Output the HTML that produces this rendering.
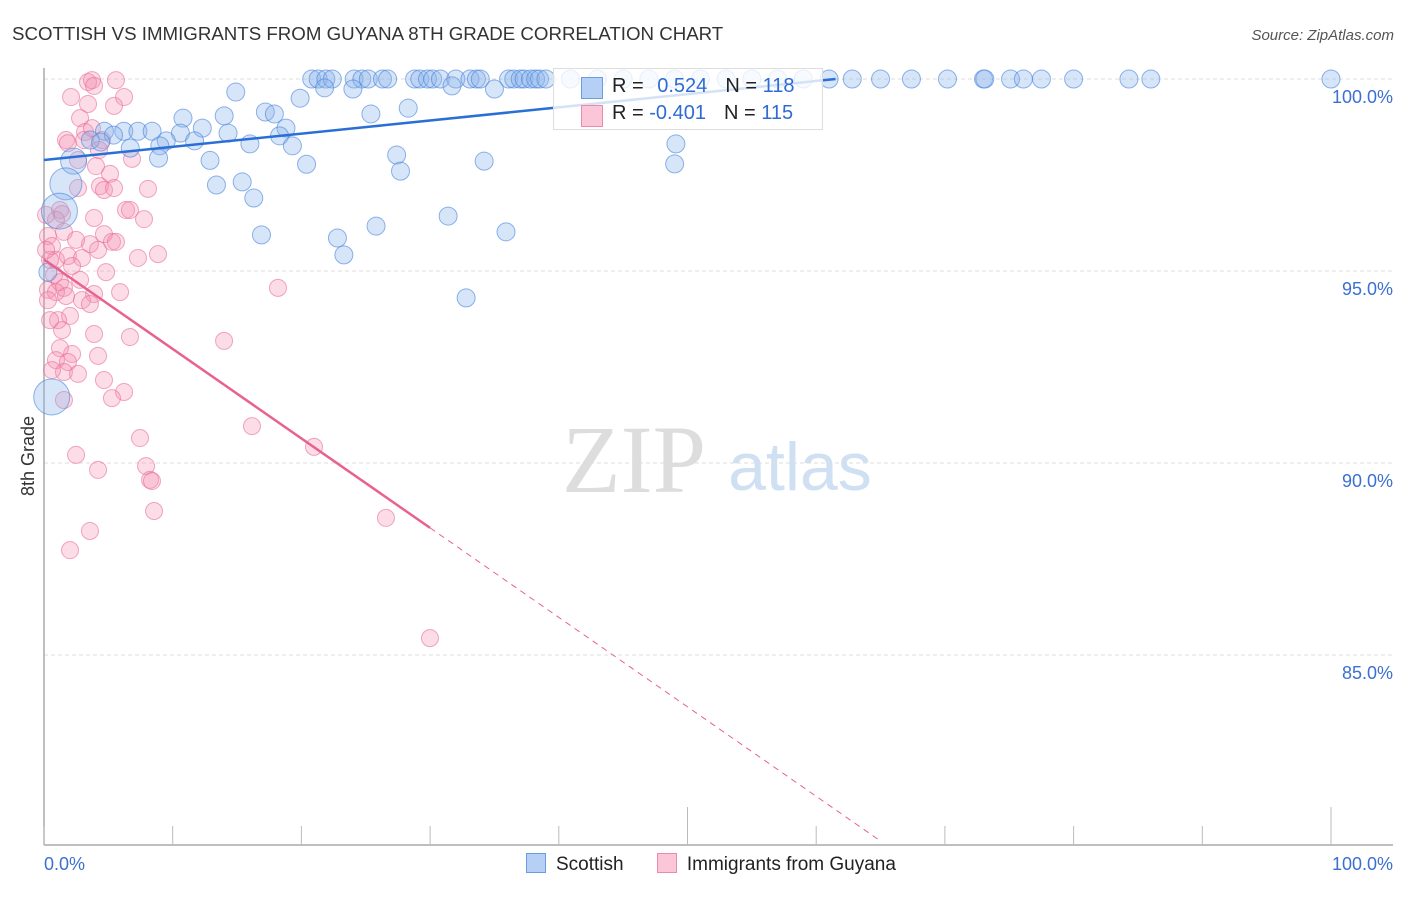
<!DOCTYPE html>
<html><head><meta charset="utf-8"><style>
body{margin:0;background:#fff;font-family:"Liberation Sans",sans-serif;}
svg text{font-family:"Liberation Sans",sans-serif;}
</style></head><body>
<svg id="chart" width="1406" height="892" viewBox="0 0 1406 892">
<text x="12" y="40" font-size="18.7" fill="#333">SCOTTISH VS IMMIGRANTS FROM GUYANA 8TH GRADE CORRELATION CHART</text>
<text x="1394" y="40" font-size="15" fill="#555" font-style="italic" text-anchor="end">Source: ZipAtlas.com</text>
<text x="634" y="492" font-size="96" fill="#ddd" text-anchor="middle" style="font-family:'Liberation Serif',serif">ZIP</text>
<text x="800" y="490" font-size="68" fill="#cfe0f3" text-anchor="middle">atlas</text>
<text transform="translate(34,456) rotate(-90)" font-size="18" fill="#333" text-anchor="middle">8th Grade</text>
<g id="grid"></g><g id="axes"></g><g id="pts"></g><g id="lines"></g><g id="legend"></g>
</svg>
<script>
const yTicks=[100,95,90,85];
const xTickLabels=["0.0%","100.0%"];
const blueX=[20.8,21.3,21.9,22.4,24.1,24.7,25.2,26.3,26.7,28.8,29.2,29.8,30.2,30.8,32.0,33.1,33.6,33.9,36.1,36.5,37.0,37.3,37.8,38.2,38.5,39.0,40.9,43,45,47,49,51,53,55,57,59,61,62.8,65.0,67.4,70.2,73.0,73.1,75.1,76.1,77.5,80.0,84.3,86.0,100,
14.9,21.8,24.0,31.7,35.0,19.9,10.8,14.0,25.4,28.3,17.2,17.9,12.3,18.8,4.7,6.2,7.3,8.4,5.4,3.6,10.6,14.3,18.3,4.4,9.5,11.7,9.0,16.0,19.3,6.7,8.9,12.9,20.4,27.4,27.7,34.2,49.1,49.0,13.4,15.4,16.3,16.9,22.8,25.8,31.4,35.9,23.3,32.8,2.3,1.7,1.2,0.6,0.3];
const blueY=[100,100,100,100,100,100,100,100,100,100,100,100,100,100,100,100,100,100,100,100,100,100,100,100,100,100,100,100,100,100,100,100,100,100,100,100,100,100,100,100,100,100,100,100,100,100,100,100,100,100,
99.66,99.77,99.74,99.82,99.74,99.5,98.98,99.04,99.09,99.24,99.14,99.09,98.72,98.72,98.64,98.64,98.64,98.64,98.54,98.41,98.59,98.59,98.52,98.36,98.39,98.39,98.26,98.31,98.26,98.20,97.94,97.88,97.78,98.02,97.60,97.86,98.31,97.79,97.24,97.32,96.90,95.94,95.86,96.17,96.43,96.02,95.42,94.30,97.86,97.27,96.56,91.72,94.97];
const blueR=[9,9,9,9,9,9,9,9,9,9,9,9,9,9,9,9,9,9,9,9,9,9,9,9,9,9,9,9,9,9,9,9,9,9,9,9,9,9,9,9,9,9,9,9,9,9,9,9,9,9,
9,9,9,9,9,9,9,9,9,9,9,9,9,9,9,9,9,9,9,9,9,9,9,9,9,9,9,9,9,9,9,9,9,9,9,9,9,9,9,9,9,9,9,9,9,9,9,9,13,16,18,18,9];
const pinkPx=[[88,82],[92,80],[94,86],[116,80],[124,97],[71,97],[88,104],[80,118],[114,106],[66,140],[68,143],[85,132],[84,140],[102,140],[99,150],[92,128],[78,160],[96,166],[110,174],[132,159],[100,186],[104,190],[114,188],[78,188],[148,189],[60,210],[62,214],[56,220],[94,218],[126,210],[130,210],[144,219],[64,232],[104,234],[112,242],[116,242],[90,244],[76,240],[48,236],[52,246],[56,260],[68,256],[82,258],[98,250],[138,258],[158,254],[72,266],[54,275],[60,282],[48,290],[64,288],[80,280],[106,272],[94,294],[120,292],[278,288],[56,292],[66,296],[82,300],[90,304],[70,316],[58,320],[62,330],[94,334],[130,337],[224,341],[60,348],[72,354],[56,360],[68,362],[98,356],[64,372],[78,374],[104,380],[124,392],[112,398],[64,400],[140,438],[252,426],[314,447],[76,455],[98,470],[146,466],[150,480],[152,481],[154,511],[90,531],[70,550],[386,518],[430,638],[48,300],[50,260],[46,250],[50,320],[52,370],[46,215]];
const pinkX=pinkPx.map(p=>+((p[0]-44)/12.87).toFixed(2));
const pinkY=pinkPx.map(p=>+(100-(p[1]-79)/38.4).toFixed(2));
const blueFit=[97.89,0.0343,61.5];
const pinkFit=[95.3,-0.233,30];
const X0=44,X1=1331,YTOP=79,YB=845;
const sx=v=>X0+v*(X1-X0)/100;
const sy=v=>YTOP+(100-v)*38.4;
const NS="http://www.w3.org/2000/svg";
function mk(tag,parent,attrs){const e=document.createElementNS(NS,tag);for(const k in attrs)e.setAttribute(k,attrs[k]);document.getElementById(parent).appendChild(e);return e;}
yTicks.forEach(t=>{
 const l=mk('line','grid',{x1:X0,x2:1393,y1:sy(t),y2:sy(t),stroke:'#ddd','stroke-dasharray':'4,3'});
 
 
 const tx=mk('text','grid',{x:1393,y:sy(t)+24,'font-size':18,fill:'#3b6fd1','text-anchor':'end'});
 tx.textContent=t.toFixed(1)+'%';
 
 
});
let a=mk('line','axes',{x1:X0,x2:X0,y1:68,y2:YB,stroke:'#aaa','stroke-width':1.5});


a=mk('line','axes',{x1:X0,x2:1393,y1:YB,y2:YB,stroke:'#aaa','stroke-width':1.5});


for(let i=0;i<=10;i++){
 const t=mk('line','axes',{x1:sx(i*10),x2:sx(i*10),y1:YB,y2:(i==5||i==10)?807:826,stroke:'#bbb'});
 
 
}
[[0,'start'],[100,'end']].forEach((d,i)=>{
 const tx=mk('text','axes',{x:i?1393:X0,y:870,'font-size':18,fill:'#3b6fd1','text-anchor':d[1]});
 tx.textContent=xTickLabels[i];
 
 
});
pinkX.forEach((v,i)=>{
 const c=mk('circle','pts',{cx:sx(v),cy:sy(pinkY[i]),r:8.5,fill:'rgba(244,143,177,0.3)',stroke:'rgba(232,110,150,0.6)','stroke-width':1});
 
 
});
blueX.forEach((v,i)=>{
 const c=mk('circle','pts',{cx:sx(v),cy:sy(blueY[i]),r:blueR[i],fill:'rgba(140,180,235,0.35)',stroke:'rgba(70,130,220,0.6)','stroke-width':1});
 
 
});
let ln=mk('line','lines',{x1:sx(0),y1:sy(blueFit[0]),x2:sx(blueFit[2]),y2:sy(blueFit[0]+blueFit[1]*blueFit[2]),stroke:'#2a6fd6','stroke-width':2.5});


ln=mk('line','lines',{x1:sx(0),y1:sy(pinkFit[0]),x2:sx(pinkFit[2]),y2:sy(pinkFit[0]+pinkFit[1]*pinkFit[2]),stroke:'#e8628e','stroke-width':2.5});


const xEnd=(pinkFit[0]-80.2)/-pinkFit[1];
ln=mk('line','lines',{x1:sx(pinkFit[2]),y1:sy(pinkFit[0]+pinkFit[1]*pinkFit[2]),x2:sx(xEnd),y2:sy(80.2),stroke:'#e8628e','stroke-width':1,'stroke-dasharray':'6,5'});


</script>
<div style="position:absolute;left:553px;top:68px;width:268px;height:60px;border:1px solid #ddd;background:rgba(255,255,255,0.8);font-size:20px;">
 <div style="position:absolute;left:27px;top:8px;width:20px;height:20px;background:#b5d0f4;border:1px solid #6a9de0"></div>
 <div style="position:absolute;left:58px;top:6px;color:#222">R = <span style="color:#2f6bd2;margin-left:8px">0.524</span><span style="margin-left:18px">N =</span> <span style="color:#2f6bd2">118</span></div>
 <div style="position:absolute;left:27px;top:36px;width:20px;height:20px;background:#fbc6d7;border:1px solid #ec8aab"></div>
 <div style="position:absolute;left:58px;top:33px;color:#222">R = <span style="color:#2f6bd2">-0.401</span><span style="margin-left:18px">N =</span> <span style="color:#2f6bd2">115</span></div>
</div>
<div style="position:absolute;left:526px;top:853px;font-size:19px;color:#222;white-space:nowrap">
 <span><span style="display:inline-block;width:18px;height:18px;background:#b5d0f4;border:1px solid #6a9de0;vertical-align:-3px;margin-right:10px"></span>Scottish</span>
 <span style="margin-left:28px"><span style="display:inline-block;width:18px;height:18px;background:#fbc6d7;border:1px solid #ec8aab;vertical-align:-3px;margin-right:10px"></span>Immigrants from Guyana</span>
</div>
</body></html>
